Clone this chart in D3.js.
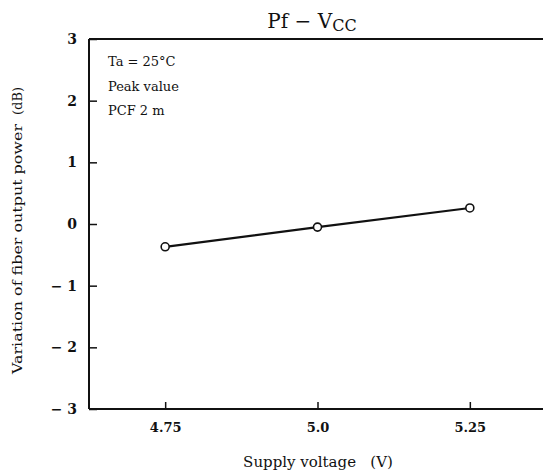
<!DOCTYPE html>
<html>
<head>
<meta charset="utf-8">
<script src="https://cdn.jsdelivr.net/npm/d3@7"></script>
<style>
  body { margin: 0; background: #fff; }
  text { font-family: "DejaVu Serif", "Liberation Serif", serif; fill: #111; }
</style>
</head>
<body>
<svg id="chart" width="543" height="474"></svg>
<script>
// Data
const voltages = [4.75, 5.0, 5.25];
const pfVariation = [-0.37, -0.05, 0.26];
const xTicks = [4.75, 5.0, 5.25];
const xTickLabels = ["4.75", "5.0", "5.25"];
const yTicks = [3, 2, 1, 0, -1, -2, -3];
const yTickLabels = ["3", "2", "1", "0", "\u2212 1", "\u2212 2", "\u2212 3"];
const notes = ["Ta = 25\u00B0C", "Peak value", "PCF 2 m"];

(function () {
const svg = d3.select("#chart");
const mLeft = 89, mRight = 546, mTop = 39, mBottom = 409;

const x = d3.scaleLinear().domain([4.625, 5.375]).range([mLeft, mRight]);
const y = d3.scaleLinear().domain([-3, 3]).range([mBottom, mTop]);

// Frame (top border)
svg.append("line").attr("x1", mLeft).attr("x2", 543).attr("y1", mTop).attr("y2", mTop)
  .attr("stroke", "#111").attr("stroke-width", 2);

// X axis
const xAxis = d3.axisBottom(x).tickValues(xTicks).tickSize(-7)
  .tickFormat((d, i) => xTickLabels[i]).tickPadding(14);
const gx = svg.append("g").attr("transform", `translate(0,${mBottom})`).call(xAxis);
gx.select(".domain").attr("stroke", "#111").attr("stroke-width", 2.2)
  .attr("d", `M${mLeft},0H543`);
gx.selectAll(".tick line").attr("stroke", "#111").attr("stroke-width", 1.5);
gx.selectAll(".tick text").attr("font-size", 13).attr("font-weight", "bold")
  .attr("font-family", "DejaVu Serif, serif").attr("fill", "#111");

// Y axis
const yAxis = d3.axisLeft(y).tickValues(yTicks).tickSize(-8)
  .tickFormat((d, i) => yTickLabels[i]).tickPadding(12);
const gy = svg.append("g").attr("transform", `translate(${mLeft},0)`).call(yAxis);
gy.select(".domain").attr("stroke", "#111").attr("stroke-width", 2)
  .attr("d", `M0,${mTop}V${mBottom}`);
gy.selectAll(".tick line").attr("stroke", "#111").attr("stroke-width", 1.5);
gy.selectAll(".tick text").attr("font-size", 14).attr("font-weight", "bold")
  .attr("font-family", "DejaVu Serif, serif").attr("fill", "#111");

// Line
const pts = voltages.map((v, i) => [v, pfVariation[i]]);
svg.append("path").datum(pts)
  .attr("d", d3.line().x(d => x(d[0])).y(d => y(d[1])))
  .attr("fill", "none").attr("stroke", "#111").attr("stroke-width", 2.2);
svg.selectAll("circle.pt").data(pts).enter().append("circle")
  .attr("class", "pt").attr("cx", d => x(d[0])).attr("cy", d => y(d[1]))
  .attr("r", 4).attr("fill", "#fff").attr("stroke", "#111").attr("stroke-width", 1.6);

// Notes
svg.selectAll("text.note").data(notes).enter().append("text")
  .attr("class", "note").attr("x", 108).attr("y", (d, i) => 66 + i * 24.5)
  .attr("font-size", 13).text(d => d);

// Title
const title = svg.append("text").attr("x", 312).attr("y", 28)
  .attr("text-anchor", "middle").attr("font-size", 20);
title.append("tspan").text("Pf \u2212 V");
title.append("tspan").attr("font-size", 16).attr("dy", 3).text("CC");

// X label
svg.append("text").attr("x", 318).attr("y", 467).attr("text-anchor", "middle")
  .attr("font-size", 15).attr("xml:space", "preserve")
  .text("Supply voltage   (V)");

// Y label
svg.append("text").attr("transform", "translate(22,249) rotate(-90)")
  .attr("text-anchor", "middle").attr("font-size", 13)
  .attr("textLength", 250).attr("lengthAdjust", "spacingAndGlyphs")
  .text("Variation of fiber output power");
svg.append("text").attr("transform", "translate(22,101) rotate(-90)")
  .attr("text-anchor", "middle").attr("font-size", 13)
  .text("(dB)");
})();
</script>
</body>
</html>
